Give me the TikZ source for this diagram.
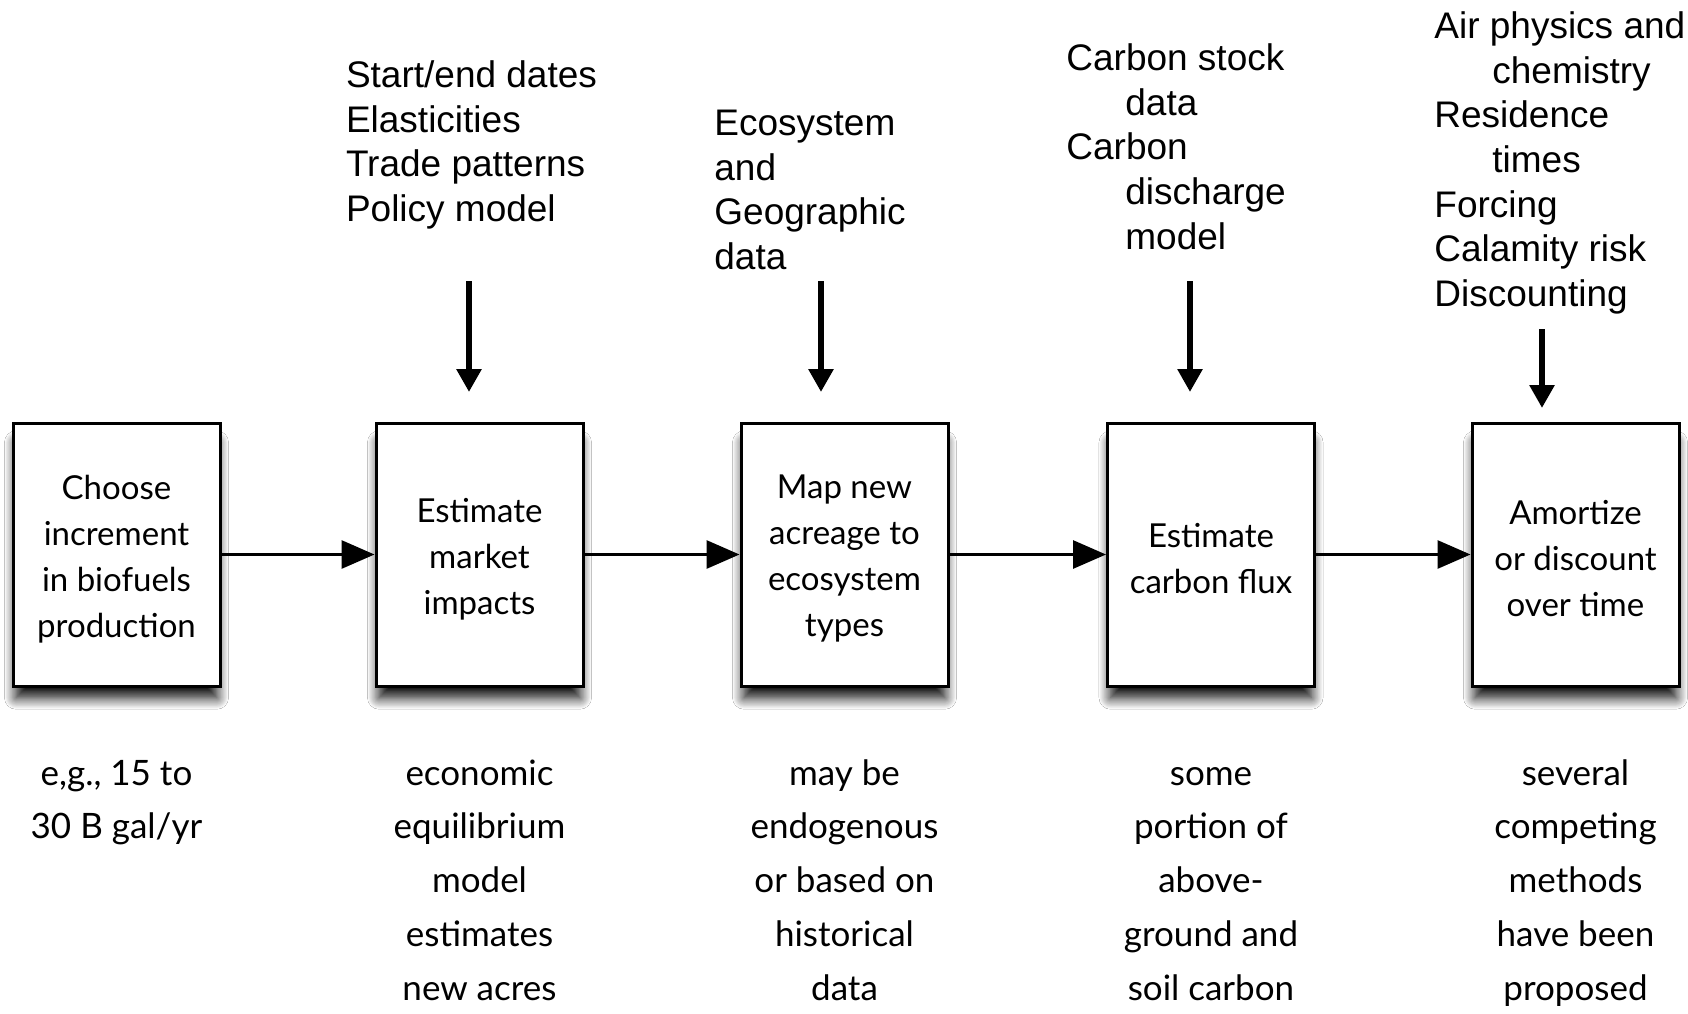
\documentclass[tikz,border=0pt]{standalone}
\usepackage{fontspec}
\newfontfamily\gill{Lato}
\newfontfamily\helv{Liberation Sans}
\usetikzlibrary{arrows.meta,shadows.blur}
\newcommand{\boxtxt}[1]{\raisebox{-2.2pt}[\height][\depth]{\parbox{100pt}{\centering #1}}}
\begin{document}
\begin{tikzpicture}[x=0.5pt,y=-0.5pt,
  stepbox/.style={draw=black,line width=1.5pt,fill=white,minimum width=103.5pt,minimum height=131.5pt,
    inner sep=0pt,align=center,font=\gill\fontsize{16.5}{23}\selectfont,
    blur shadow={shadow xshift=0pt,shadow yshift=-8pt,shadow scale=0.97,shadow blur steps=14,shadow opacity=100,shadow blur radius=6pt}},
  toptext/.style={anchor=north west,inner sep=0pt,align=left,font=\helv\fontsize{18.5}{22.3}\selectfont},
  bottext/.style={anchor=north,inner sep=0pt,align=center,font=\gill\fontsize{17.5}{26.9}\selectfont},
  flow/.style={line width=1.5pt,-{Triangle[length=16.5pt,width=14pt]}},
  feed/.style={line width=3pt,-{Triangle[length=11.5pt,width=12pt]}}]
\useasboundingbox (0,0) rectangle (1688,1013);
\fill[white] (0,0) rectangle (1688,1013);
% boxes
\node[stepbox] (b1) at (116.5,554.5) {\boxtxt{Choose\\increment\\in biofuels\\production}};
\node[stepbox] (b2) at (479.5,554.5) {\boxtxt{Estimate\\market\\impacts}};
\node[stepbox] (b3) at (844.5,554.5) {\boxtxt{Map new\\acreage to\\ecosystem\\types}};
\node[stepbox] (b4) at (1211,554.5) {\boxtxt{Estimate\\carbon flux}};
\node[stepbox] (b5) at (1575.5,554.5) {\boxtxt{Amortize\\or discount\\over time}};
% flow arrows
\draw[flow] (b1.east) -- (b2.west);
\draw[flow] (b2.east) -- (b3.west);
\draw[flow] (b3.east) -- (b4.west);
\draw[flow] (b4.east) -- (b5.west);
% top texts
\node[toptext] (t2) at (345.6,56) {\strut Start/end dates\\Elasticities\\Trade patterns\\Policy model};
\node[toptext] (t3) at (714,104) {\strut Ecosystem\\and\\Geographic\\data};
\node[toptext] (t4) at (1066,39) {\strut Carbon stock\\\hspace*{29.5pt}data\\Carbon\\\hspace*{29.5pt}discharge\\\hspace*{29.5pt}model};
\node[toptext] (t5) at (1434,7) {\strut Air physics and\\\hspace*{29pt}chemistry\\Residence\\\hspace*{29pt}times\\Forcing\\Calamity risk\\Discounting};
% feed arrows
\coordinate (s2) at (469,281); \coordinate (e2) at (469,392);
\coordinate (s3) at (821,281); \coordinate (e3) at (821,392);
\coordinate (s4) at (1190,281); \coordinate (e4) at (1190,392);
\coordinate (s5) at (1542,329); \coordinate (e5) at (1542,408);
\draw[feed] (s2) -- (e2);
\draw[feed] (s3) -- (e3);
\draw[feed] (s4) -- (e4);
\draw[feed] (s5) -- (e5);
% bottom texts
\node[bottext] (n1) at (116.5,747) {\strut e,g., 15 to\\30 B gal/yr};
\node[bottext] (n2) at (479.5,747) {\strut economic\\equilibrium\\model\\estimates\\new acres};
\node[bottext] (n3) at (844.5,747) {\strut may be\\endogenous\\or based on\\historical\\data};
\node[bottext] (n4) at (1211,747) {\strut some\\portion of\\above-\\ground and\\soil carbon};
\node[bottext] (n5) at (1575.5,747) {\strut several\\competing\\methods\\have been\\proposed};
\end{tikzpicture}
\end{document}
